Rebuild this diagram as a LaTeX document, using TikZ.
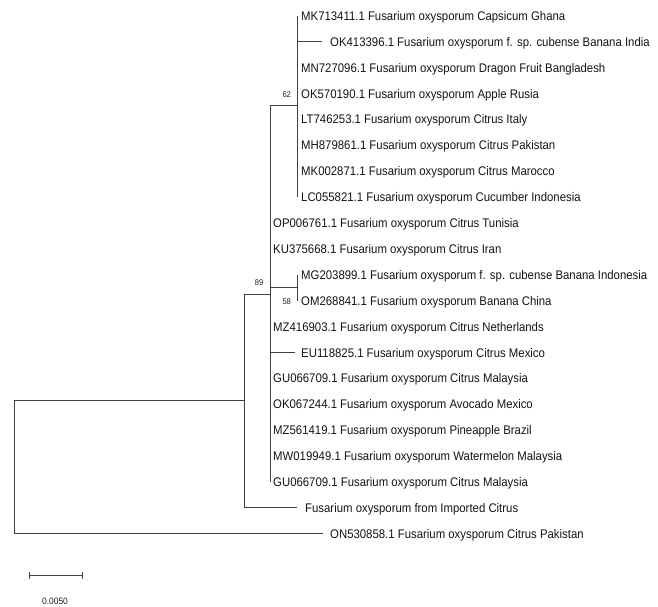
\documentclass[tikz,border=0pt]{standalone}
\usepackage{fontspec}
\setmainfont[FakeStretch=0.91]{Liberation Sans}
\usepackage{xcolor}
\usepackage{tikz}
\usetikzlibrary{arrows.meta,positioning,calc}

\begin{document}
\begin{tikzpicture}[x=1pt, y=-1pt]
    \tikzstyle{leaf} = [anchor=west, inner sep=0pt, text height=9pt, text depth=0pt, text=black!92, font=\fontsize{12.5}{14}\selectfont]
    \tikzstyle{boot} = [inner sep=0pt, text=black!88, font=\fontsize{8.3}{10}\selectfont]
    \tikzstyle{branch} = [line width=0.9pt, draw=black!75]

    \useasboundingbox (0,0) rectangle (658,606);

    % taxa
    \node (l1) [leaf] at (301,15.8) {MK713411.1 Fusarium oxysporum Capsicum Ghana};
    \node (l2) [leaf] at (330,41.7) {OK413396.1 Fusarium oxysporum f. sp. cubense Banana India};
    \node (l3) [leaf] at (301,67.6) {MN727096.1 Fusarium oxysporum Dragon Fruit Bangladesh};
    \node (l4) [leaf] at (301,93.5) {OK570190.1 Fusarium oxysporum Apple Rusia};
    \node (l5) [leaf] at (301,119.4) {LT746253.1 Fusarium oxysporum Citrus Italy};
    \node (l6) [leaf] at (301,145.3) {MH879861.1 Fusarium oxysporum Citrus Pakistan};
    \node (l7) [leaf] at (301,171.2) {MK002871.1 Fusarium oxysporum Citrus Marocco};
    \node (l8) [leaf] at (301,197.1) {LC055821.1 Fusarium oxysporum Cucumber Indonesia};
    \node (l9) [leaf] at (273,223.0) {OP006761.1 Fusarium oxysporum Citrus Tunisia};
    \node (l10) [leaf] at (273,248.9) {KU375668.1 Fusarium oxysporum Citrus Iran};
    \node (l11) [leaf] at (301,274.8) {MG203899.1 Fusarium oxysporum f. sp. cubense Banana Indonesia};
    \node (l12) [leaf] at (301,300.7) {OM268841.1 Fusarium oxysporum Banana China};
    \node (l13) [leaf] at (273,326.6) {MZ416903.1 Fusarium oxysporum Citrus Netherlands};
    \node (l14) [leaf] at (301,352.5) {EU118825.1 Fusarium oxysporum Citrus Mexico};
    \node (l15) [leaf] at (273,378.4) {GU066709.1 Fusarium oxysporum Citrus Malaysia};
    \node (l16) [leaf] at (273,404.3) {OK067244.1 Fusarium oxysporum Avocado Mexico};
    \node (l17) [leaf] at (273,430.2) {MZ561419.1 Fusarium oxysporum Pineapple Brazil};
    \node (l18) [leaf] at (273,456.1) {MW019949.1 Fusarium oxysporum Watermelon Malaysia};
    \node (l19) [leaf] at (273,482.0) {GU066709.1 Fusarium oxysporum Citrus Malaysia};
    \node (l20) [leaf] at (305,507.9) {Fusarium oxysporum from Imported Citrus};
    \node (l21) [leaf] at (330,533.8) {ON530858.1 Fusarium oxysporum Citrus Pakistan};

    % internal nodes
    \coordinate (n62) at (297,105.7);
    \coordinate (n58) at (297,287.7);
    \coordinate (n89) at (270,294.0);
    \coordinate (nA) at (244.3,400.7);
    \coordinate (root) at (14,400.7);

    % clade lines
    \draw [branch] (n62 |- l1) -- (n62 |- l8);
    \draw [branch] (n58 |- l11) -- (n58 |- l12);
    \draw [branch] (n89 |- n62) -- (n89 |- l19);
    \draw [branch] (nA |- n89) -- (nA |- l20);
    \draw [branch] (root) -- (root |- l21);

    \draw [branch] (n89 |- n62) -- (n62);
    \draw [branch] (n89 |- n58) -- (n58);
    \draw [branch] (nA |- n89) -- (n89);
    \draw [branch] (root) -- (nA);

    \draw [branch] (n62 |- l2) -- ([xshift=-7.7pt]l2.west);
    \draw [branch] (n89 |- l14) -- ([xshift=-6pt]l14.west);
    \draw [branch] (nA |- l20) -- ([xshift=-8.3pt]l20.west);
    \draw [branch] (root |- l21) -- ([xshift=-6.7pt]l21.west);

    % bootstrap
    \node (b62) [boot] at (286.7,95) {62};
    \node (b89) [boot] at (259,282.3) {89};
    \node (b58) [boot] at (286.7,301.7) {58};

    % scale
    \coordinate (sb1) at (29.3,575.7);
    \coordinate (sb2) at (82.7,575.7);
    \draw [branch, {Bar[width=7pt]}-{Bar[width=7pt]}] (sb1) -- (sb2);
    \node (sbl) [boot, font=\fontsize{9.3}{11}\selectfont] at (55,601.7) {0.0050};
\end{tikzpicture}
\end{document}
